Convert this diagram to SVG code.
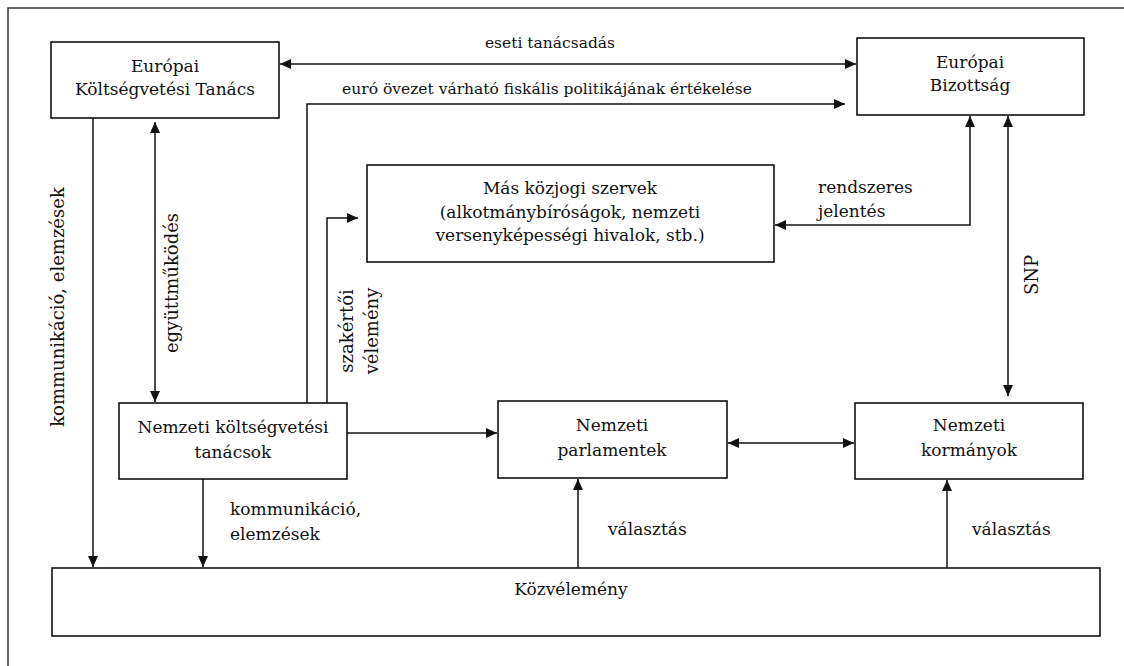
<svg xmlns="http://www.w3.org/2000/svg" width="1124" height="666" viewBox="0 0 1124 666">
<style>
text{font-family:"DejaVu Serif","Liberation Serif",serif;font-size:17px;fill:#111}
.c{text-anchor:middle}
.t{font-size:15.5px}
.v{font-size:18px}
.box{fill:#fff;stroke:#111;stroke-width:1.6}
.ln{fill:none;stroke:#111;stroke-width:1.5}
</style>
<defs>
<marker id="ah" markerUnits="userSpaceOnUse" markerWidth="12" markerHeight="10" refX="11" refY="5" orient="auto-start-reverse"><path d="M0,0 L11,5 L0,10 z" fill="#111"/></marker>
</defs>
<rect width="1124" height="666" fill="#fff"/>
<path d="M8,666 V8 H1124" fill="none" stroke="#333" stroke-width="1.5"/>
<g id="connectors">
<path class="ln" d="M280,64 H856" marker-start="url(#ah)" marker-end="url(#ah)"/>
<path class="ln" d="M307,403 V104 H845" marker-end="url(#ah)"/>
<path class="ln" d="M327,403 V218 H358" marker-end="url(#ah)"/>
<path class="ln" d="M970,116 V225 H775" marker-start="url(#ah)" marker-end="url(#ah)"/>
<path class="ln" d="M1008,116 V396" marker-start="url(#ah)" marker-end="url(#ah)"/>
<path class="ln" d="M93,118 V567" marker-end="url(#ah)"/>
<path class="ln" d="M155,122 V402" marker-start="url(#ah)" marker-end="url(#ah)"/>
<path class="ln" d="M347,433 H497" marker-end="url(#ah)"/>
<path class="ln" d="M728,443 H854" marker-start="url(#ah)" marker-end="url(#ah)"/>
<path class="ln" d="M203,479 V567" marker-end="url(#ah)"/>
<path class="ln" d="M578,568 V479" marker-end="url(#ah)"/>
<path class="ln" d="M947,568 V480" marker-end="url(#ah)"/>
<text class="c t" x="550" y="48">eseti tanácsadás</text>
<text class="c t" x="547" y="94">euró övezet várható fiskális politikájának értékelése</text>
<text x="818" y="193">rendszeres</text>
<text x="818" y="217">jelentés</text>
<text class="c v" transform="translate(64,307) rotate(-90)">kommunikáció, elemzések</text>
<text class="c v" transform="translate(178,283) rotate(-90)">együttműködés</text>
<text class="c v" transform="translate(1038,275) rotate(-90)">SNP</text>
<text class="c v" transform="translate(353,331) rotate(-90)"><tspan x="0" y="0">szakértői</tspan><tspan x="0" y="25">vélemény</tspan></text>
<text x="230" y="515">kommunikáció,</text>
<text x="230" y="540">elemzések</text>
<text x="608" y="535" font-size="16">választás</text>
<text x="972" y="535" font-size="16">választás</text>
</g>
<g id="ect">
<rect class="box" x="51" y="42" width="228" height="76"/>
<text class="c" x="165" y="72">Európai</text>
<text class="c" x="165" y="95">Költségvetési Tanács</text>
</g>
<g id="eb">
<rect class="box" x="857" y="38" width="227" height="77"/>
<text class="c" x="970" y="68">Európai</text>
<text class="c" x="970" y="91">Bizottság</text>
</g>
<g id="mksz">
<rect class="box" x="367" y="165" width="407" height="97"/>
<text class="c" x="570" y="194">Más közjogi szervek</text>
<text class="c" x="570" y="218">(alkotmánybíróságok, nemzeti</text>
<text class="c" x="570" y="241">versenyképességi hivalok, stb.)</text>
</g>
<g id="nkt">
<rect class="box" x="119" y="403" width="228" height="76"/>
<text class="c" x="233" y="433">Nemzeti költségvetési</text>
<text class="c" x="233" y="458">tanácsok</text>
</g>
<g id="np">
<rect class="box" x="498" y="401" width="229" height="77"/>
<text class="c" x="612" y="431">Nemzeti</text>
<text class="c" x="612" y="456">parlamentek</text>
</g>
<g id="nk">
<rect class="box" x="855" y="403" width="228" height="76"/>
<text class="c" x="969" y="431">Nemzeti</text>
<text class="c" x="969" y="456">kormányok</text>
</g>
<g id="kozvelemeny">
<rect class="box" x="52" y="568" width="1048" height="68"/>
<text class="c" x="571" y="595" font-size="18">Közvélemény</text>
</g>
</svg>
